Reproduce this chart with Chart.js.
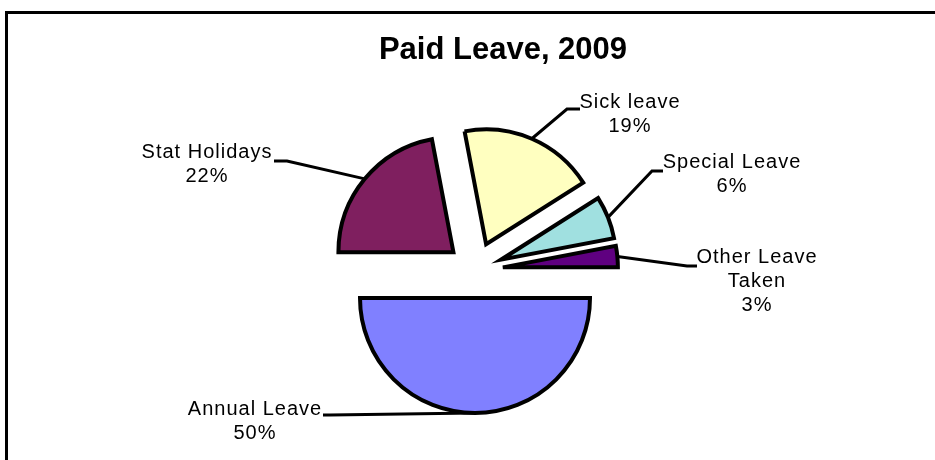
<!DOCTYPE html>
<html>
<head>
<meta charset="utf-8">
<script src="https://cdn.jsdelivr.net/npm/chart.js@4/dist/chart.umd.min.js"></script>
<style>
  html, body { margin: 0; padding: 0; background: #fff; }
  #wrap { position: relative; width: 935px; height: 460px; overflow: hidden; }
  #frame { position: absolute; left: 5px; top: 11px; width: 960px; height: 480px;
           border-left: 3px solid #000; border-top: 3px solid #000; }
  canvas { position: absolute; left: 0; top: 0; }
</style>
</head>
<body>
<div id="wrap">
  <div id="frame"></div>
  <canvas id="pie" width="935" height="460"></canvas>
</div>
<script>
// slices go clockwise from 9 o'clock
const categories = ['Stat Holidays', 'Sick leave', 'Special Leave', 'Other Leave Taken', 'Annual Leave'];
const shares = [22, 19, 6, 3, 50];
const sliceColors = ['#7f1f5f', '#ffffc0', '#a0e0e0', '#5f0080', '#8080ff'];

// where each label sits: lines of text, centre x, first baseline, elbow and end of the leader line
const labelLayout = [
  { lines: ['Stat Holidays'], cx: 207, y: 158, elbow: [287, 161], end: [274, 161] },
  { lines: ['Sick leave'], cx: 630, y: 108, elbow: [567, 109], end: [580, 109] },
  { lines: ['Special Leave'], cx: 732, y: 168, elbow: [652, 171], end: [663, 171] },
  { lines: ['Other Leave', 'Taken'], cx: 757, y: 263, elbow: [687, 266], end: [697, 266] },
  { lines: ['Annual Leave'], cx: 255, y: 415, elbow: [330, 415], end: [323, 415] }
];

const pieRadius = 115;
const explode = 28;

const total = shares.reduce((a, b) => a + b, 0);

// pull every slice out by the same distance along its middle angle
// (chart.js's own offset also enlarges thin slices and trims their angles)
const explodeSlices = {
  id: 'explodeSlices',
  afterDatasetsUpdate(chart) {
    chart.getDatasetMeta(0).data.forEach(arc => {
      const mid = (arc.startAngle + arc.endAngle) / 2;
      arc.x += Math.cos(mid) * explode;
      arc.y += Math.sin(mid) * explode;
    });
  }
};

const pieLabels = {
  id: 'pieLabels',
  afterDraw(chart) {
    const ctx = chart.ctx;
    const meta = chart.getDatasetMeta(0);
    ctx.save();
    // title
    ctx.fillStyle = '#000';
    ctx.textAlign = 'center';
    ctx.textBaseline = 'alphabetic';
    ctx.font = 'bold 31px "Liberation Sans", Arial, sans-serif';
    ctx.fillText('Paid Leave, 2009', 503, 59);

    ctx.font = '20px "Liberation Sans", Arial, sans-serif';
    ctx.letterSpacing = '1px';
    meta.data.forEach((arc, i) => {
      const mid = (arc.startAngle + arc.endAngle) / 2;
      const ax = arc.x + Math.cos(mid) * arc.outerRadius;
      const ay = arc.y + Math.sin(mid) * arc.outerRadius;
      const L = labelLayout[i];
      ctx.strokeStyle = '#000';
      ctx.lineWidth = 3;
      ctx.lineJoin = 'miter';
      ctx.beginPath();
      ctx.moveTo(ax, ay);
      ctx.lineTo(L.elbow[0], L.elbow[1]);
      ctx.lineTo(L.end[0], L.end[1]);
      ctx.stroke();
      const lines = L.lines.concat([Math.round(shares[i] / total * 100) + '%']);
      lines.forEach((t, k) => ctx.fillText(t, L.cx, L.y + k * 24));
    });
    ctx.restore();
  }
};

new Chart(document.getElementById('pie'), {
  type: 'pie',
  data: {
    labels: categories,
    datasets: [{
      data: shares,
      backgroundColor: sliceColors,
      borderColor: '#000',
      borderWidth: 4,
      borderJoinStyle: 'miter'
    }]
  },
  options: {
    responsive: false,
    animation: false,
    events: [],
    rotation: 270,
    radius: pieRadius,
    layout: { padding: { left: 15, right: 0, top: 80, bottom: 0 } },
    plugins: {
      legend: { display: false },
      tooltip: { enabled: false },
      title: { display: false }
    }
  },
  plugins: [explodeSlices, pieLabels]
});
</script>
</body>
</html>
